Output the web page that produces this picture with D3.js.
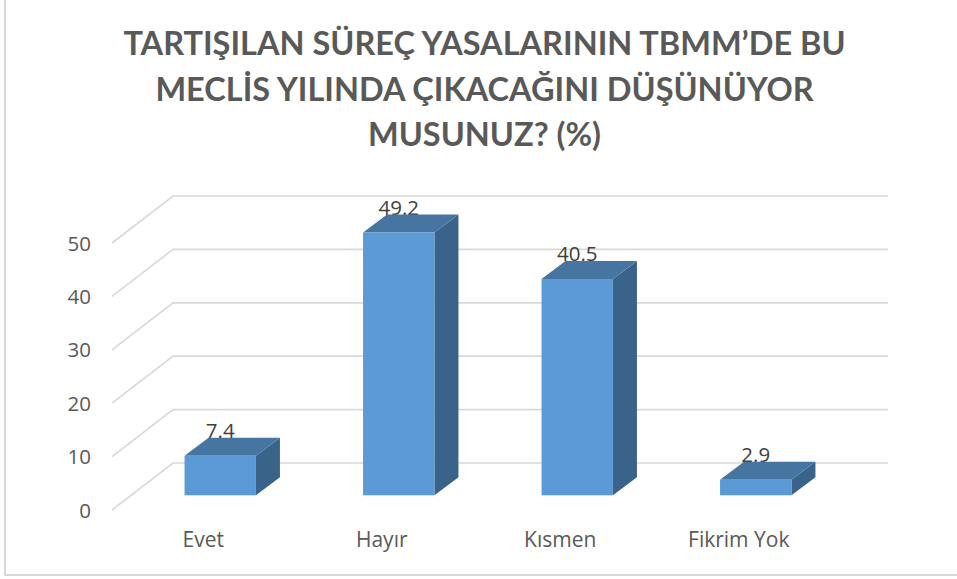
<!DOCTYPE html>
<html>
<head>
<meta charset="utf-8">
<script src="https://cdn.jsdelivr.net/npm/d3@7"></script>
<style>
  html, body { margin: 0; padding: 0; background: #fff; }
  svg { display: block; }
  text { font-family: "Open Sans", sans-serif; }
  .title { font-family: Lato, sans-serif; font-weight: 700; font-size: 32.5px; fill: #595959; }
</style>
</head>
<body>
<div class="chart"></div>
<script>
var categories = ["Evet", "Hayır", "Kısmen", "Fikrim Yok"];
var values = [7.4, 49.2, 40.5, 2.9];
var yTicks = [0, 10, 20, 30, 40, 50];
var titleLines = ["TARTIŞILAN SÜREÇ YASALARININ TBMM’DE BU", "MECLİS YILINDA ÇIKACAĞINI DÜŞÜNÜYOR", "MUSUNUZ? (%)"];

var svgWidth = 957;
var svgHeight = 579;

// front plane of the 3d box
var x = d3.scaleBand()
  .domain(categories)
  .range([112, 826])
  .paddingInner(0.6)
  .paddingOuter(0.3);

var y = d3.scaleLinear()
  .domain([0, 50])
  .range([510, 243]);

// wall is pushed back by this much, bars sit part way in
var wallDx = 61, wallDy = -47;
var barShiftX = 19, barShiftY = -14.7;
var sideDx = 24, sideDy = -18;

var svg = d3.select(".chart")
  .append("svg")
  .attr("width", svgWidth)
  .attr("height", svgHeight);

// only the left and bottom edges of the frame are in the picture
svg.append("path")
  .attr("d", `M5,0V575H${svgWidth}`)
  .attr("fill", "none")
  .attr("stroke", "#d9d9d9")
  .attr("stroke-width", 2);

svg.append("g")
  .selectAll("text")
  .data(titleLines)
  .enter()
  .append("text")
  .attr("class", "title")
  .attr("x", 484.5)
  .attr("y", (d, i) => 55 + i * 45.5)
  .attr("text-anchor", "middle")
  .text(d => d);

// Gridlines: floor/side diagonal, then along the back wall
var grid = svg.append("g")
  .attr("fill", "none")
  .attr("stroke", "#d9d9d9")
  .attr("stroke-width", 1.7);

grid.selectAll("path")
  .data(yTicks)
  .enter()
  .append("path")
  .attr("d", d => `M112,${y(d)}L${112 + wallDx},${y(d) + wallDy}H888`);

// Axes
var leftAxis = d3.axisLeft(y).tickValues(yTicks).tickSize(0).tickPadding(21);
var yAxisGroup = svg.append("g")
  .attr("transform", "translate(112, 0.5)")
  .call(leftAxis);
yAxisGroup.select(".domain").remove();
yAxisGroup.selectAll("text")
  .style("font-family", '"Open Sans", sans-serif')
  .style("font-size", "20.5px")
  .attr("fill", "#595959");

var bottomAxis = d3.axisBottom(x).tickSize(0).tickPadding(0);
var xAxisGroup = svg.append("g")
  .attr("transform", "translate(2, 532)")
  .call(bottomAxis);
xAxisGroup.select(".domain").remove();
xAxisGroup.selectAll("text")
  .style("font-family", '"Open Sans", sans-serif')
  .style("font-size", "21px")
  .attr("fill", "#595959");

// Bars
var base = y(0) + barShiftY;
var barLeft = c => x(c) + barShiftX;
var barTop = v => y(v) + barShiftY;
var w = x.bandwidth();

var bars = svg.selectAll(".bar")
  .data(categories.map((c, i) => ({ c: c, v: values[i] })))
  .enter()
  .append("g")
  .attr("class", "bar");

bars.append("text")
  .attr("x", d => barLeft(d.c) + w / 2)
  .attr("y", d => barTop(d.v) - 18)
  .attr("text-anchor", "middle")
  .attr("font-size", "20.5px")
  .attr("fill", "#404040")
  .text(d => d.v.toFixed(1));

bars.append("path")
  .attr("fill", "#3a6389")
  .attr("d", d => {
    var r = barLeft(d.c) + w;
    return `M${r},${barTop(d.v)}l${sideDx},${sideDy}V${base + sideDy}L${r},${base}Z`;
  });

bars.append("path")
  .attr("fill", "#4675a1")
  .attr("d", d => {
    var l = barLeft(d.c);
    return `M${l},${barTop(d.v)}l${sideDx},${sideDy}h${w}l${-sideDx},${-sideDy}Z`;
  });

bars.append("rect")
  .attr("x", d => barLeft(d.c))
  .attr("y", d => barTop(d.v))
  .attr("width", w)
  .attr("height", d => base - barTop(d.v))
  .attr("fill", "#5b9ad5");
</script>
</body>
</html>
